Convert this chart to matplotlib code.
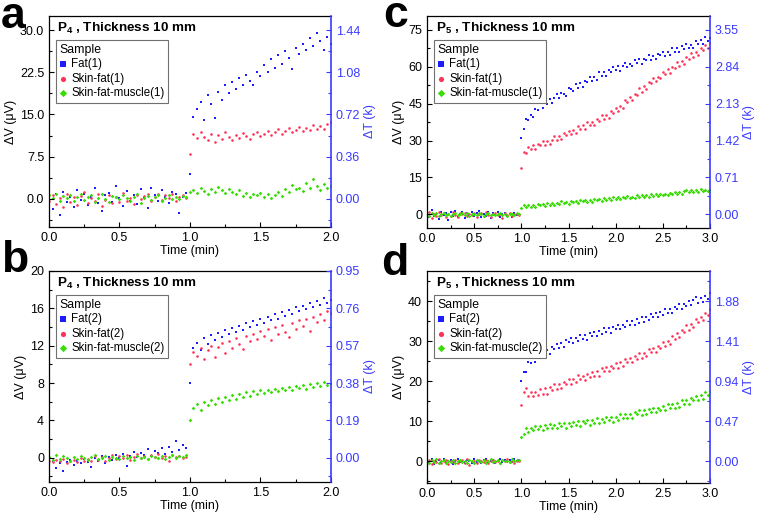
import numpy as np
import matplotlib
matplotlib.use("Agg")
import matplotlib.pyplot as plt
from matplotlib.ticker import AutoMinorLocator, FormatStrFormatter

plt.rcParams['font.family'] = ['Liberation Sans', 'DejaVu Sans']
plt.rcParams['mathtext.fontset'] = 'custom'
plt.rcParams['mathtext.rm'] = 'Liberation Sans'
plt.rcParams['mathtext.bf'] = 'Liberation Sans:bold'

# time axes (min)
t2 = np.linspace(0, 2, 81)
t3 = np.linspace(0, 3, 121)

# ---- panel a : P4, 2 min ----
a_fat = [0.5, -1.8, 0.8, -2.9, 1.2, -0.6, 0.3, -1.4, 1.6, -0.2,
         0.9, -1.1, 0.4, 1.9, -0.8, -2.1, 0.6, 1.1, -0.5, 2.3,
         0.2, -1.3, 1.4, -0.4, 0.7, -0.9, 1.8, 0.1, -1.6, 2.0,
         0.6, -0.3, 1.5, 0.3, -0.7, 1.2, 0.8, -2.6, 0.4, 1.0,
         4.5,
         14.5, 16.0, 17.2, 14.0, 18.5, 16.8, 14.4, 19.0, 17.5, 20.2,
         18.8, 20.8, 19.5, 21.5, 20.3, 22.0, 21.0, 20.2, 22.5, 21.8,
         23.8, 22.6, 24.8, 23.2, 25.5, 24.0, 26.2, 25.0, 23.0, 26.8,
         25.8, 27.5, 26.4, 28.6, 27.2, 29.5, 28.0, 26.5, 28.8, 27.6]
a_skin = [-0.3, 0.6, -0.9, 0.2, -1.4, 0.8, -0.5, 0.3, -1.1, 0.5,
          1.2, -0.7, 0.1, -0.4, 0.9, -1.3, -0.2, 0.6, -0.8, 0.4,
          -0.6, 1.0, -0.3, 0.2, -1.0, 0.7, -0.1, 0.5, 0.9, -0.4,
          0.3, 0.8, -0.2, 0.6, 0.1, 0.9, -0.3, 0.4, 0.7, 0.2,
          8.0,
          11.5, 10.8, 11.9, 11.0, 10.4, 11.6, 10.1, 11.3, 10.7, 11.8,
          11.0, 10.5, 11.4, 10.9, 11.7, 11.2, 10.6, 11.5, 11.9, 11.1,
          11.6, 12.1, 11.3, 11.8, 12.4, 11.5, 12.0, 12.6, 11.9, 12.3,
          12.8, 12.0, 12.6, 12.2, 13.1, 12.5, 12.9, 12.4, 13.3, 13.6]
a_muscle = [0.6, 0.2, 0.9, -0.3, 0.5, 0.1, 0.7, -0.4, 0.3, 0.8,
            -0.2, 0.4, 0.6, -0.5, 0.2, 0.9, 0.0, -0.6, 0.5, 0.3,
            -0.1, 0.7, 0.2, -0.3, 0.4, 0.8, -0.7, 0.1, 0.5, -0.2,
            0.3, 0.6, -0.4, 0.2, 0.7, -0.1, 0.4, 0.0, 0.5, 0.3,
            1.2,
            1.6, 1.0, 2.0, 1.4, 0.8, 1.7, 1.2, 2.1, 1.5, 1.1,
            1.8, 1.3, 0.9, 1.6, 0.5, 1.0, 0.3, 0.8, 0.6, 1.1,
            0.4, 0.9, 0.2, 0.7, 1.2, 0.5, 1.8, 1.3, 2.5, 1.7,
            2.0, 1.4, 2.8, 1.9, 3.5, 2.3, 1.6, 2.6, 1.9, 2.2]

# ---- panel b : P4, 2 min ----
b_fat = [-0.9, -0.4, -1.1, -0.6, -1.4, -0.5, -0.2, -0.8, -0.3, -0.6,
         -0.1, -0.5, -1.0, 0.0, -0.3, 0.2, -0.6, 0.1, -0.2, 0.3,
         0.0, 0.4, -0.9, 0.2, 0.6, 0.1, 0.5, 0.3, 0.9, 0.2,
         0.7, 0.5, 1.0, 0.4, 1.2, 0.6, 1.8, 0.8, 1.4, 1.0,
         8.0,
         11.8, 12.3, 11.5, 12.8, 12.2, 13.1, 12.6, 13.4, 12.9, 13.7,
         13.2, 13.9, 13.5, 14.1, 13.7, 14.4, 14.0, 14.6, 14.2, 14.9,
         14.4, 15.1, 14.7, 15.4, 14.9, 15.6, 15.2, 15.8, 15.4, 16.1,
         15.7, 16.3, 15.9, 16.6, 16.1, 16.8, 16.4, 17.1, 16.6, 16.9]
b_skin = [-0.3, -0.5, -0.2, -0.4, -0.1, -0.6, -0.3, -0.2, -0.5, 0.0,
          -0.3, -0.1, -0.4, 0.2, -0.2, 0.1, -0.3, 0.0, 0.3, -0.1,
          0.2, 0.0, 0.3, -0.2, 0.1, 0.4, 0.0, 0.2, -0.1, 0.3,
          0.1, 0.4, 0.0, 0.2, -0.3, 0.3, 0.1, 0.2, 0.0, 0.1,
          10.0,
          11.3, 10.9, 11.8, 10.6, 11.5, 12.0, 10.8, 11.9, 12.3, 11.2,
          12.5, 11.7, 12.8, 12.2, 11.6, 13.0, 12.5, 13.3, 12.7, 13.6,
          13.0, 13.8, 12.6, 14.0, 13.3, 14.2, 13.5, 12.9, 14.4, 13.8,
          14.7, 14.1, 14.9, 13.6, 15.1, 14.5, 15.4, 14.8, 15.7, 15.5]
b_muscle = [0.1, -0.2, 0.3, -0.1, 0.2, 0.0, -0.3, 0.1, -0.1, 0.2,
            0.0, -0.2, 0.1, 0.3, -0.1, 0.0, 0.2, -0.2, 0.1, 0.0,
            -0.1, 0.2, 0.0, 0.1, -0.2, 0.2, 0.0, 0.1, -0.1, 0.2,
            0.1, 0.0, 0.2, -0.1, 0.1, 0.3, 0.0, 0.2, 0.1, 0.3,
            4.0,
            5.3, 5.8, 5.1, 6.0, 5.6, 6.2, 5.7, 6.4, 6.0, 6.5,
            6.2, 6.7, 6.3, 6.8, 6.5, 7.0, 6.6, 7.1, 6.8, 7.2,
            6.9, 7.3, 7.0, 7.4, 7.1, 7.5, 7.2, 7.6, 7.3, 7.7,
            7.5, 7.8, 7.4, 7.9, 7.6, 8.0, 7.7, 8.1, 7.8, 7.9]

# ---- panel c : P5, 3 min ----
c_fat = [0.8, -1.2, 1.9, -0.5, 0.3, -1.8, 1.1, -0.2, 0.6, -2.4,
         0.9, -0.7, 1.5, -1.0, 0.2, 1.2, -1.5, 0.4, -0.3, 0.9,
         -0.8, 0.5, 1.3, -1.1, 0.1, -0.5, 0.8, -1.3, 0.6, -0.2,
         1.0, -0.9, 0.3, 0.7, -0.6, 0.2, -1.0, 0.5, -0.4, 0.3,
         31.0,
         34.5, 38.7, 38.2, 40.5, 39.5, 42.9, 42.5, 45.1, 43.2, 45.2,
         44.9, 47.0, 45.2, 47.4, 48.9, 47.1, 49.2, 48.8, 47.9, 51.1,
         50.8, 50.0, 52.8, 51.5, 53.3, 51.6, 54.1, 53.8, 55.7, 54.1,
         55.8, 54.6, 57.7, 56.3, 57.7, 56.3, 58.7, 57.6, 59.9, 58.6,
         60.1, 58.3, 60.4, 61.6, 59.8, 61.0, 60.1, 62.5, 61.3, 62.9,
         61.1, 63.2, 62.6, 64.5, 62.7, 64.2, 63.0, 65.2, 64.5, 66.0,
         64.4, 66.1, 64.6, 67.4, 66.1, 67.5, 66.1, 68.3, 67.1, 69.1,
         67.5, 68.9, 67.7, 70.2, 69.0, 70.6, 69.2, 71.8, 70.4, 71.6]
c_skin = [-0.5, 0.8, -1.3, 0.2, -0.7, 1.1, -0.2, 0.5, -1.0, 0.3,
          -0.6, 0.9, -0.3, -1.2, 0.4, 0.0, 0.7, -0.8, 0.2, -0.4,
          0.6, -1.1, 0.1, 0.5, -0.5, 0.8, -0.2, -0.9, 0.3, 0.6,
          -0.4, 0.2, -1.4, 0.4, -0.1, 0.7, -0.6, 0.1, 0.3, -0.3,
          19.0,
          25.3, 24.9, 27.3, 26.5, 28.2, 26.5, 28.4, 28.0, 30.0, 28.1,
          30.0, 28.7, 30.4, 31.8, 30.3, 31.9, 30.5, 33.1, 32.4, 34.0,
          32.6, 34.2, 33.0, 35.7, 34.6, 36.1, 34.8, 37.5, 36.3, 37.6,
          36.4, 38.9, 38.0, 40.2, 38.6, 40.3, 39.3, 41.8, 41.1, 43.0,
          42.1, 44.1, 43.1, 46.3, 45.8, 47.6, 46.6, 48.8, 48.6, 51.2,
          49.8, 52.0, 50.9, 53.7, 53.2, 55.5, 54.1, 55.8, 55.2, 57.7,
          57.1, 59.2, 57.5, 60.0, 59.6, 61.7, 60.3, 62.1, 61.2, 63.8,
          63.0, 65.4, 63.8, 65.9, 64.6, 67.5, 66.9, 68.9, 67.6, 69.4]
c_muscle = [0.2, -0.5, 0.6, -0.2, 0.4, -0.7, 0.1, 0.5, -0.3, 0.3,
            -0.6, 0.2, 0.7, -0.4, 0.0, 0.4, -0.2, 0.6, -0.5, 0.1,
            0.3, -0.3, 0.5, 0.0, -0.6, 0.2, 0.4, -0.1, 0.3, -0.4,
            0.1, 0.5, -0.2, 0.2, -0.5, 0.3, 0.0, -0.3, 0.4, 0.1,
            2.5,
            3.7, 3.1, 4.0, 3.1, 3.8, 3.2, 4.4, 3.7, 4.2, 3.4,
            4.5, 4.0, 4.8, 4.0, 4.6, 4.1, 5.3, 4.6, 5.2, 4.4,
            5.6, 4.9, 5.4, 4.8, 6.0, 5.4, 5.9, 5.2, 5.9, 5.2,
            6.3, 5.7, 6.3, 5.6, 6.7, 5.9, 6.5, 6.0, 6.9, 6.3,
            7.0, 6.2, 7.0, 6.5, 7.5, 6.8, 7.2, 6.5, 7.7, 7.2,
            7.7, 7.0, 7.7, 7.1, 8.2, 7.5, 8.1, 7.5, 8.4, 7.7,
            8.5, 7.8, 8.7, 8.3, 9.3, 8.4, 9.1, 8.5, 9.7, 10.1,
            9.1, 9.8, 9.3, 10.0, 9.2, 10.2, 9.6, 10.0, 9.5, 10.0]

# ---- panel d : P5, 3 min ----
d_fat = [0.2, -0.4, 0.5, -0.7, 0.1, 0.4, -0.3, 0.6, -0.5, 0.0,
         0.3, -0.6, 0.2, 0.5, -0.2, 0.1, -0.4, 0.4, 0.0, -0.3,
         0.5, -0.1, 0.2, -0.5, 0.3, 0.6, -0.2, 0.1, 0.4, -0.3,
         0.2, 0.5, -0.1, 0.3, 0.0, 0.4, -0.2, 0.6, 0.1, 0.3,
         20.0,
         22.3, 22.4, 24.8, 24.5, 26.2, 24.9, 26.4, 26.0, 27.7, 26.3,
         27.8, 26.7, 28.5, 28.0, 29.3, 28.2, 29.5, 28.6, 30.4, 29.7,
         30.8, 29.6, 30.8, 30.1, 31.6, 30.5, 31.6, 30.4, 32.0, 31.3,
         32.3, 31.2, 32.4, 31.7, 33.3, 32.2, 33.2, 32.1, 33.6, 33.0,
         34.1, 33.0, 34.1, 33.4, 34.9, 34.0, 34.9, 33.9, 35.4, 34.6,
         35.9, 34.8, 35.9, 35.3, 36.8, 36.0, 37.0, 35.9, 37.2, 36.5,
         37.9, 37.0, 38.1, 37.0, 38.6, 37.9, 39.2, 38.0, 39.2, 38.8,
         40.1, 38.9, 40.2, 41.0, 39.6, 40.7, 39.8, 41.3, 40.5, 41.9]
d_skin = [-0.3, 0.4, -0.6, 0.2, -0.1, 0.5, -0.4, 0.1, 0.3, -0.7,
          0.2, -0.2, 0.4, -0.5, 0.0, 0.3, -0.3, 0.5, -0.8, 0.1,
          0.2, -0.4, 0.4, 0.0, -0.2, 0.3, -0.5, 0.2, 0.4, -0.1,
          0.1, -0.3, 0.3, 0.0, 0.5, -0.2, 0.2, -0.4, 0.1, 0.0,
          14.0,
          17.4, 18.4, 16.4, 17.4, 16.2, 17.4, 16.5, 18.0, 16.9, 18.2,
          16.9, 18.5, 17.9, 19.2, 18.1, 19.3, 18.2, 19.9, 19.4, 20.6,
          19.4, 20.6, 19.7, 21.5, 20.5, 21.4, 20.3, 21.9, 21.1, 22.4,
          21.3, 22.5, 21.4, 23.4, 22.6, 23.6, 22.5, 23.9, 23.2, 24.6,
          23.4, 24.7, 23.7, 25.5, 24.7, 25.8, 24.8, 26.2, 25.6, 27.1,
          25.9, 27.1, 26.2, 28.0, 27.3, 28.4, 27.4, 28.9, 28.2, 29.7,
          28.7, 30.1, 29.3, 31.2, 30.6, 32.0, 31.1, 32.7, 32.2, 33.9,
          32.8, 34.2, 33.5, 35.4, 34.8, 36.1, 35.2, 36.9, 36.4, 38.0]
d_muscle = [0.1, -0.4, 0.3, -0.2, 0.5, -0.5, 0.0, 0.4, -0.3, 0.2,
            -0.1, 0.3, -0.4, 0.1, 0.4, -0.2, 0.2, -0.5, 0.3, 0.0,
            -0.3, 0.4, 0.1, -0.2, 0.3, -0.4, 0.2, 0.5, -0.1, 0.1,
            0.3, -0.3, 0.4, 0.0, 0.2, -0.2, 0.5, 0.1, 0.3, 0.4,
            6.0,
            6.9, 8.3, 7.4, 8.4, 7.7, 8.9, 8.1, 8.8, 7.7, 9.0,
            8.3, 9.2, 8.2, 9.0, 8.2, 9.6, 8.7, 9.5, 8.3, 9.5,
            8.7, 9.9, 9.0, 10.1, 8.9, 10.0, 9.5, 10.2, 9.1, 10.2,
            9.6, 10.9, 9.6, 10.6, 9.7, 11.0, 10.2, 11.0, 9.9, 11.1,
            10.3, 11.7, 10.8, 11.8, 10.8, 11.9, 10.8, 12.2, 11.7, 12.7,
            11.6, 12.7, 11.8, 13.1, 12.4, 13.3, 12.2, 13.4, 12.8, 13.9,
            12.9, 14.3, 13.4, 14.4, 13.4, 14.6, 13.6, 15.3, 14.2, 15.3,
            14.4, 15.8, 15.2, 16.4, 15.4, 16.5, 15.6, 17.2, 16.5, 17.5]

panels = [
    # letter, letter pos (px), axes rect, time, series, suffix, subscript,
    # ylim, left ticks, right ticks, dT per dV, left format, x ticks
    ('a', (1, 28), [0.0647, 0.5635, 0.3725, 0.4058], t2, (a_fat, a_skin, a_muscle), '(1)', '4',
     (-5, 32.5), [0, 7.5, 15, 22.5, 30], [0, 0.36, 0.72, 1.08, 1.44], 0.048, '%.1f',
     [0, 0.5, 1.0, 1.5, 2.0]),
    ('c', (383, 27), [0.5641, 0.5615, 0.3738, 0.4077], t3, (c_fat, c_skin, c_muscle), '(1)', '5',
     (-5.5, 80.5), [0, 15, 30, 45, 60, 75], [0, 0.71, 1.42, 2.13, 2.84, 3.55], 3.55 / 75, '%d',
     [0, 0.5, 1.0, 1.5, 2.0, 2.5, 3.0]),
    ('b', (1, 272), [0.0647, 0.0731, 0.3725, 0.4058], t2, (b_fat, b_skin, b_muscle), '(2)', '4',
     (-2.6, 20), [0, 4, 8, 12, 16, 20], [0, 0.19, 0.38, 0.57, 0.76, 0.95], 0.95 / 20, '%d',
     [0, 0.5, 1.0, 1.5, 2.0]),
    ('d', (381, 275), [0.5641, 0.0712, 0.3738, 0.4077], t3, (d_fat, d_skin, d_muscle), '(2)', '5',
     (-5.4, 47.5), [0, 10, 20, 30, 40], [0, 0.47, 0.94, 1.41, 1.88], 1.88 / 40, '%d',
     [0, 0.5, 1.0, 1.5, 2.0, 2.5, 3.0]),
]

colors = ['#1c1cff', '#ff3358', '#3cdc0a']
markers = ['s', 'o', 'D']
names = ['Fat', 'Skin-fat', 'Skin-fat-muscle']
rcol = '#3a3aff'

W, H = 757, 520
fig = plt.figure(figsize=(W / 100, H / 100), dpi=100)

for letter, lpos, rect, t, series, suf, sub, ylim, lt, rt, k, fmt, xt in panels:
    ax = fig.add_axes(rect)
    for y, c, m, n in zip(series, colors, markers, names):
        ax.scatter(t, y, s=3.5, c=c, marker=m, linewidths=0, label=n + suf)
    ax.set_xlim(0, t[-1])
    ax.set_ylim(*ylim)
    ax.set_xticks(xt)
    ax.xaxis.set_major_formatter(FormatStrFormatter('%.1f'))
    ax.set_yticks(lt)
    ax.yaxis.set_major_formatter(FormatStrFormatter(fmt))
    ax.xaxis.set_minor_locator(AutoMinorLocator(2))
    ax.yaxis.set_minor_locator(AutoMinorLocator(2))
    ax.tick_params(which='both', direction='in', labelsize=9, top=False, right=False)
    ax.tick_params(which='major', length=3.5, width=0.8)
    ax.tick_params(which='minor', length=2, width=0.8)
    ax.set_xlabel('Time (min)', fontsize=9, labelpad=1)
    ax.set_ylabel('ΔV (μV)', fontsize=9, labelpad=2)
    for s in ax.spines.values():
        s.set_linewidth(0.9)
    ax.spines['right'].set_visible(False)

    ax2 = ax.twinx()
    ax2.set_ylim(ylim[0] * k, ylim[1] * k)
    ax2.set_yticks(rt)
    ax2.yaxis.set_major_formatter(FormatStrFormatter('%.2f'))
    ax2.yaxis.set_minor_locator(AutoMinorLocator(2))
    ax2.tick_params(which='both', direction='in', labelsize=9, colors=rcol)
    ax2.tick_params(which='major', length=3.5, width=0.8)
    ax2.tick_params(which='minor', length=2, width=0.8)
    ax2.spines['right'].set_color(rcol)
    ax2.spines['right'].set_linewidth(1.2)
    ax2.spines['left'].set_visible(False)
    ax2.spines['top'].set_visible(False)
    ax2.spines['bottom'].set_visible(False)
    ax2.set_ylabel('ΔT (k)', fontsize=9, color=rcol, labelpad=3)

    ax.text(0.03, 0.975, r'P$_{\mathbf{' + sub + r'}}$ , Thickness 10 mm', transform=ax.transAxes,
            fontsize=9.7, fontweight='bold', va='top', ha='left')
    leg = ax.legend(title='Sample', loc='upper left', bbox_to_anchor=(0.025, 0.885),
                    borderaxespad=0, fontsize=8.3, title_fontsize=8.8, markerscale=2.0,
                    handlelength=0.6, handletextpad=0.4, labelspacing=0.22,
                    borderpad=0.3, fancybox=False, framealpha=1)
    leg._legend_box.align = 'left'
    leg.get_frame().set_edgecolor('#707070')
    leg.get_frame().set_linewidth(0.8)

    fig.text(lpos[0] / W, 1 - lpos[1] / H, letter, fontsize=32, fontweight='bold',
             va='baseline', ha='left')

fig.savefig('out.png', dpi=100)
